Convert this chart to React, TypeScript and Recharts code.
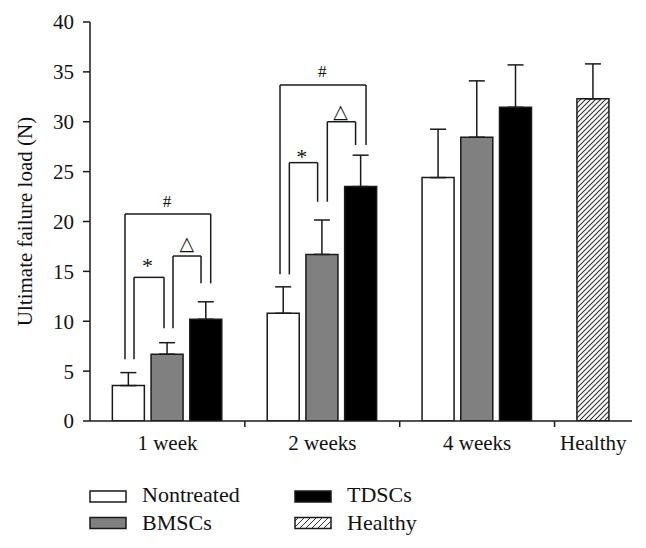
import React from 'react';
import {
  ComposedChart,
  Bar,
  XAxis,
  YAxis,
  Cell,
  ErrorBar,
  ReferenceLine,
  ReferenceDot,
} from 'recharts';

// ---------- data ----------
const categories = ['1 week', '2 weeks', '4 weeks', 'Healthy'];
const seriesNames = ['Nontreated', 'BMSCs', 'TDSCs', 'Healthy'];

const nontreatedValues = [3.55, 10.8, 24.4];
const nontreatedErrors = [1.3, 2.65, 4.85];
const bmscValues = [6.7, 16.7, 28.45];
const bmscErrors = [1.15, 3.45, 5.65];
const tdscValues = [10.2, 23.5, 31.45];
const tdscErrors = [1.75, 3.15, 4.25];
const healthyValues = [32.3];
const healthyErrors = [3.5];

const yTicks = [0, 5, 10, 15, 20, 25, 30, 35, 40];

// significance brackets (data units)
const brackets = [
  { xL: 0.904, xR: 3.118, yL: 6.2, yTop: 20.75, yR: 13.8, sym: '#', lx: 1.99, ly: 21.98 },
  { xL: 1.137, xR: 1.912, yL: 6.2, yTop: 14.4, yR: 9.3, sym: '*', lx: 1.485, ly: 15.6 },
  { xL: 2.144, xR: 2.868, yL: 9.3, yTop: 16.54, yR: 13.8, sym: '△', lx: 2.5, ly: 17.8 },
  { xL: 4.908, xR: 7.13, yL: 14.7, yTop: 33.68, yR: 27.67, sym: '#', lx: 6.0, ly: 35.0 },
  { xL: 5.149, xR: 5.88, yL: 14.7, yTop: 25.9, yR: 21.98, sym: '*', lx: 5.47, ly: 26.55 },
  { xL: 6.13, xR: 6.86, yL: 21.98, yTop: 30.0, yR: 27.67, sym: '△', lx: 6.47, ly: 31.08 },
];

// ---------- table built for the library ----------
const SLOTS_PER_GROUP = 4;
const seriesVals = [nontreatedValues, bmscValues, tdscValues];
const seriesErrs = [nontreatedErrors, bmscErrors, tdscErrors];
const rows: any[] = [];
seriesVals.forEach((vals, s) =>
  vals.forEach((v, g) =>
    rows.push({ pos: g * SLOTS_PER_GROUP + s + 1, value: v, err: [0, seriesErrs[s][g]], series: s })
  )
);
healthyValues.forEach((v, i) =>
  rows.push({ pos: 3 * SLOTS_PER_GROUP + 1, value: v, err: [0, healthyErrors[i]], series: 3 })
);
rows.sort((a, b) => a.pos - b.pos);

const boundaryTicks = [4, 8, 12];
const labelTicks = [2, 6, 10, 13];

const FILLS = ['#ffffff', '#808080', '#000000', 'url(#hatch)'];
const INK = '#1a1a1a';
const FONT = 'Liberation Serif, serif';

function XTick(props: any) {
  const { x, y, payload } = props;
  const v = payload.value;
  if (boundaryTicks.includes(v)) {
    return <line x1={x} x2={x} y1={y} y2={y + 6} stroke={INK} strokeWidth={1.5} />;
  }
  const i = labelTicks.indexOf(v);
  if (i < 0) return <g />;
  return (
    <text x={x} y={y + 29} textAnchor="middle" fontSize={21} fontFamily={FONT} fill="#111">
      {categories[i]}
    </text>
  );
}

function YLabel(props: any) {
  const vb = props.viewBox || { x: 0, y: 22, width: 90, height: 399 };
  const cx = vb.x + 32;
  const cy = vb.y + vb.height / 2;
  return (
    <text
      x={cx}
      y={cy}
      transform={`rotate(-90 ${cx} ${cy})`}
      textAnchor="middle"
      fontSize={21}
      fontFamily={FONT}
      fill="#111"
    >
      Ultimate failure load (N)
    </text>
  );
}

function Swatch({ x, y, fill }: { x: number; y: number; fill: string }) {
  return <rect x={x} y={y} width={36} height={11} fill={fill} stroke={INK} strokeWidth={1.5} />;
}

const legendItems = [
  { name: seriesNames[0], col: 0, row: 0, fill: FILLS[0] },
  { name: seriesNames[1], col: 0, row: 1, fill: FILLS[1] },
  { name: seriesNames[2], col: 1, row: 0, fill: FILLS[2] },
  { name: seriesNames[3], col: 1, row: 1, fill: 'url(#hatchLegend)' },
];

export default function App() {
  return (
    <div style={{ position: 'absolute', left: 0, top: 0, width: 646, height: 548, background: '#fff' }}>
      <ComposedChart
        width={646}
        height={548}
        data={rows}
        margin={{ top: 22, right: 14, bottom: 97, left: 0 }}
      >
        <defs>
          <pattern id="hatch" patternUnits="userSpaceOnUse" width={5} height={5}>
            <rect width={5} height={5} fill="#fff" />
            <path d="M0,5 L5,0 M-1,1 L1,-1 M4,6 L6,4" stroke="#333" strokeWidth={1.1} />
          </pattern>
        </defs>
        <XAxis
          dataKey="pos"
          type="number"
          domain={[0, 14]}
          ticks={[2, 4, 6, 8, 10, 12, 13]}
          interval={0}
          tickLine={false}
          tickSize={0}
          tickMargin={0}
          tick={<XTick />}
          axisLine={{ stroke: INK, strokeWidth: 1.5 }}
          height={30}
          allowDataOverflow
        />
        <YAxis
          type="number"
          domain={[0, 40]}
          ticks={yTicks}
          interval={0}
          width={90}
          tickSize={7}
          tickMargin={9}
          tickLine={{ stroke: INK, strokeWidth: 1.5 }}
          axisLine={{ stroke: INK, strokeWidth: 1.5 }}
          tick={{ fontSize: 21, fontFamily: FONT, fill: '#111' }}
          label={(p: any) => <YLabel {...p} />}
          allowDataOverflow
        />
        <Bar dataKey="value" barSize={32} stroke={INK} strokeWidth={1.5} isAnimationActive={false}>
          {rows.map((r, i) => (
            <Cell key={i} fill={FILLS[r.series]} />
          ))}
          <ErrorBar dataKey="err" width={8} stroke={INK} strokeWidth={1.5} direction="y" />
        </Bar>
        {brackets.map((b, i) => [
          <ReferenceLine
            key={`l${i}`}
            segment={[{ x: b.xL, y: b.yL }, { x: b.xL, y: b.yTop }]}
            stroke={INK}
            strokeWidth={1.5}
          />,
          <ReferenceLine
            key={`t${i}`}
            segment={[{ x: b.xL, y: b.yTop }, { x: b.xR, y: b.yTop }]}
            stroke={INK}
            strokeWidth={1.5}
          />,
          <ReferenceLine
            key={`r${i}`}
            segment={[{ x: b.xR, y: b.yTop }, { x: b.xR, y: b.yR }]}
            stroke={INK}
            strokeWidth={1.5}
          />,
          <ReferenceDot
            key={`d${i}`}
            x={b.lx}
            y={b.ly}
            r={1}
            shape={(p: any) => (
              <text
                x={p.cx}
                y={p.cy}
                textAnchor="middle"
                dominantBaseline="central"
                fontSize={b.sym === '△' ? 19 : b.sym === '*' ? 22 : 17}
                fontFamily={b.sym === '△' ? 'DejaVu Sans, sans-serif' : FONT}
                fill="#111"
              >
                {b.sym}
              </text>
            )}
          />,
        ])}
      </ComposedChart>
      <svg
        width={646}
        height={548}
        style={{ position: 'absolute', left: 0, top: 0, pointerEvents: 'none' }}
      >
        <defs>
          <pattern id="hatchLegend" patternUnits="userSpaceOnUse" width={6} height={6}>
            <rect width={6} height={6} fill="#fff" />
            <path d="M0,6 L6,0 M-1,1 L1,-1 M5,7 L7,5" stroke="#333" strokeWidth={1} />
          </pattern>
        </defs>
        {legendItems.map((it) => {
          const bx = it.col === 0 ? 90 : 295;
          const tx = it.col === 0 ? 142 : 347;
          const by = it.row === 0 ? 491 : 517.5;
          const ty = it.row === 0 ? 502 : 530;
          return (
            <g key={it.name}>
              <Swatch x={bx} y={by} fill={it.fill} />
              <text x={tx} y={ty} fontSize={22} fontFamily={FONT} fill="#111">
                {it.name}
              </text>
            </g>
          );
        })}
      </svg>
    </div>
  );
}
